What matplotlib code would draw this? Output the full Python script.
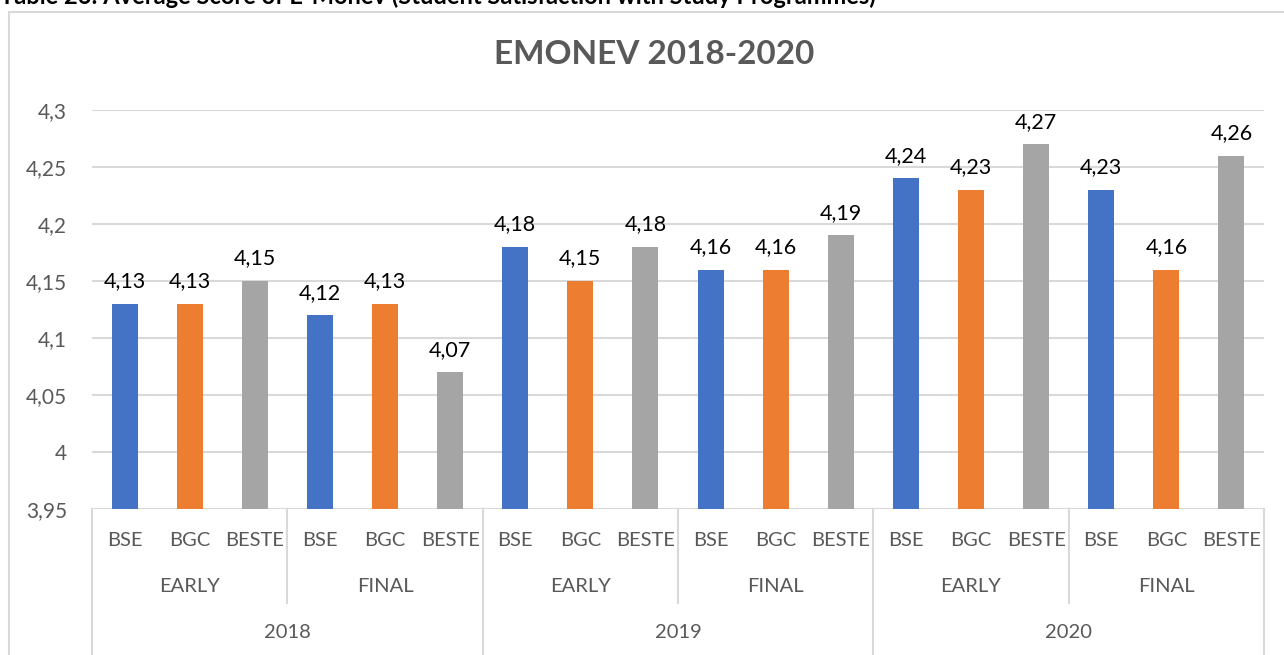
import matplotlib.pyplot as plt
from matplotlib.patches import Rectangle
import matplotlib.transforms as mtransforms
import numpy as np

plt.rcParams['font.family'] = ['Lato', 'DejaVu Sans']

years = ['2018', '2019', '2020']
phases = ['EARLY', 'FINAL']
programs = ['BSE', 'BGC', 'BESTE']

# one value per year/phase group, in order 2018 EARLY, 2018 FINAL, 2019 EARLY, ...
bse = [4.13, 4.12, 4.18, 4.16, 4.24, 4.23]
bgc = [4.13, 4.13, 4.15, 4.16, 4.23, 4.16]
beste = [4.15, 4.07, 4.18, 4.19, 4.27, 4.26]

colors = ['#4472C4', '#ED7D31', '#A5A5A5']
grid_c = '#D9D9D9'
text_c = '#595959'

W, H = 1284, 655
fig = plt.figure(figsize=(W / 100, H / 100), dpi=100)

# outer chart frame
fig.patches.append(Rectangle((9 / W, -0.1), 1.2, 1 - 12 / H + 0.1, transform=fig.transFigure,
                             fill=False, edgecolor=grid_c, linewidth=1.5))

# caption, cut off at top as in the source
fig.text(0 / W, 1 - 4 / H, 'Table 26: Average Score of E-Monev (Student Satisfaction with Study Programmes)',
         fontsize=17, fontweight='bold', color='black', ha='left', va='baseline')

ax_l, ax_r, ax_t, ax_b = 92, 1264, 110, 509
ax = fig.add_axes([ax_l / W, 1 - ax_b / H, (ax_r - ax_l) / W, (ax_b - ax_t) / H])

series = [bse, bgc, beste]
n = len(bse) * len(programs)
x = np.arange(n)
for i, vals in enumerate(series):
    xs = x[i::3]
    bars = ax.bar(xs, vals, width=0.4, color=colors[i], zorder=3)
    for b, v in zip(bars, vals):
        ax.annotate(f'{v:g}'.replace('.', ','), (b.get_x() + b.get_width() / 2, v),
                    xytext=(0, 9), textcoords='offset points', ha='center', va='bottom',
                    fontsize=15.5, color='black')

ax.set_xlim(-0.5, n - 0.5)
ax.set_ylim(3.95, 4.3)
yt = np.round(np.arange(3.95, 4.301, 0.05), 2)
ax.set_yticks(yt)
ax.set_yticklabels([f'{v:g}'.replace('.', ',') for v in yt], fontsize=15, color=text_c)
ax.tick_params(axis='y', length=0, pad=18)
ax.set_xticks([])
ax.grid(axis='y', color=grid_c, linewidth=1.5, zorder=0)
for s in ax.spines.values():
    s.set_visible(False)

# hierarchical category axis
tr = mtransforms.blended_transform_factory(ax.transData, ax.transAxes)
hpx = ax_b - ax_t
def ay(py):
    return -(py - ax_b) / hpx

for i in range(n):
    ax.text(i, ay(540), programs[i % 3], transform=tr, ha='center', va='center',
            fontsize=14.5, color=text_c)
for g in range(n // 3):
    ax.text(g * 3 + 1, ay(587), phases[g % 2], transform=tr, ha='center', va='center',
            fontsize=14.5, color=text_c)
for yi, yr in enumerate(years):
    ax.text(yi * 6 + 2.5, ay(632), yr, transform=tr, ha='center', va='center',
            fontsize=14.5, color=text_c)
for b in range(0, n + 1, 3):
    bottom = ay(700) if b % 6 == 0 else ay(603)
    ax.plot([b - 0.5, b - 0.5], [0, bottom], transform=tr, color=grid_c,
            linewidth=1.5, clip_on=False)

fig.text(654 / W, 1 - 55 / H, 'EMONEV 2018-2020', fontsize=24, fontweight='bold',
         color=text_c, ha='center', va='center')

fig.savefig('out.png', dpi=100)
